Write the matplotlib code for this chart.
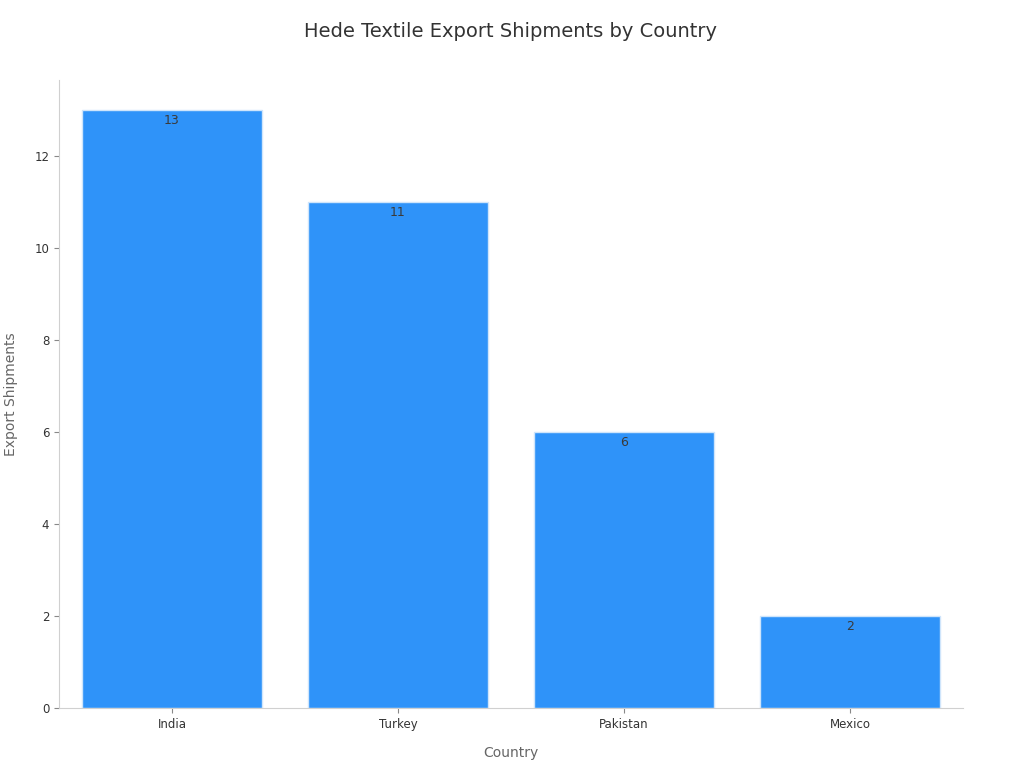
import matplotlib.pyplot as plt

countries = ["India", "Turkey", "Pakistan", "Mexico"]
shipments = [13, 11, 6, 2]

fig = plt.figure(figsize=(10.24, 7.68), dpi=100)
ax = fig.add_axes([0.0576, 0.0781, 0.8828, 0.8177])

bars = ax.bar(countries, shipments, width=0.8, color="#2f93f9",
              edgecolor="#cfe5fb", linewidth=1)

for b, v in zip(bars, shipments):
    ax.text(b.get_x() + b.get_width() / 2, v - 0.08, str(v),
            ha="center", va="top", fontsize=9, color="#3a3a3a")

ax.set_xlim(-0.5, 3.5)
ax.set_ylim(0, 13.65)

ax.set_title("Hede Textile Export Shipments by Country", fontsize=14,
             color="#333333", pad=31)
ax.set_xlabel("Country", fontsize=10, color="#666666", labelpad=11)
ax.set_ylabel("Export Shipments", fontsize=10, color="#666666", labelpad=12)

for side in ["top", "right"]:
    ax.spines[side].set_visible(False)
for side in ["left", "bottom"]:
    ax.spines[side].set_color("#d0d0d0")

ax.tick_params(axis="both", labelsize=8.5, colors="#333333")
ax.tick_params(axis="both", color="#888888")

fig.savefig("out.png", dpi=100)
